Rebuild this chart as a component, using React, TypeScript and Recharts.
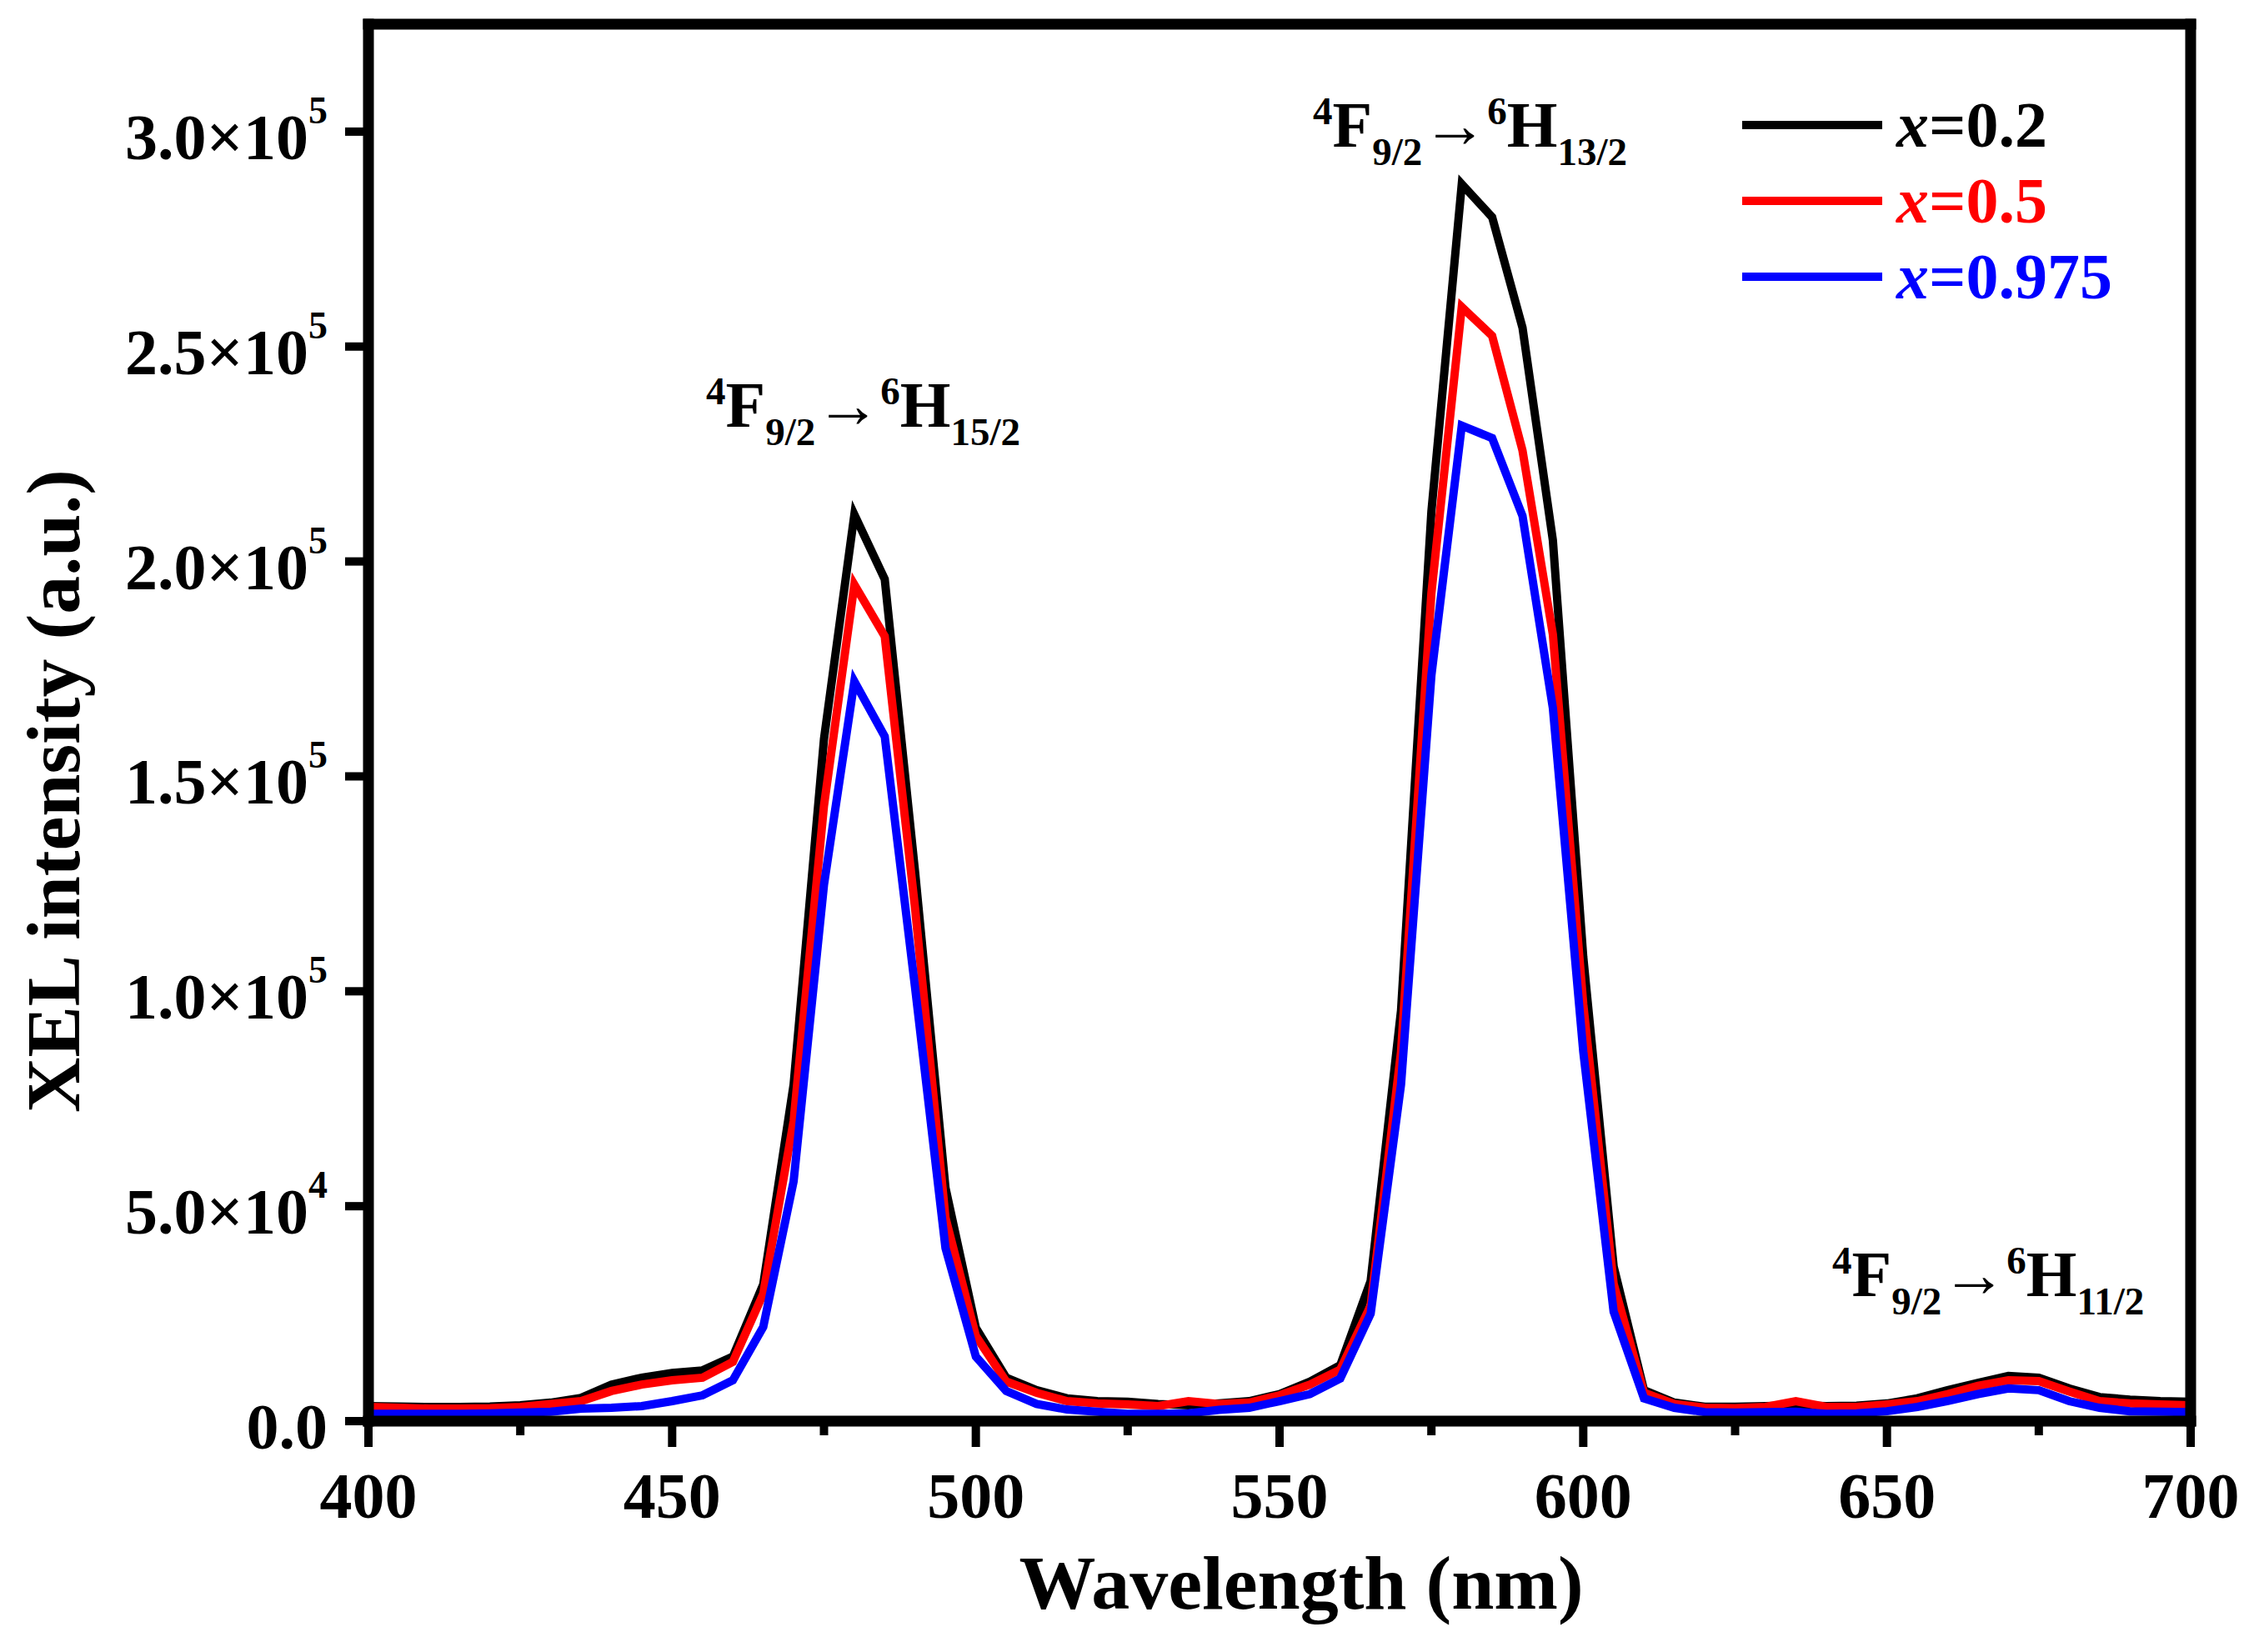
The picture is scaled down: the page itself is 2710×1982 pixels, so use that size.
import React from "react";
import { ComposedChart, Line, XAxis, YAxis } from "recharts";

// wavelength grid (nm)
const wavelengths = [
  400, 405, 410, 415, 420, 425, 430, 435, 440, 445, 450, 455, 460, 465, 470, 475, 480, 485, 490, 495,
  500, 505, 510, 515, 520, 525, 530, 535, 540, 545, 550, 555, 560, 565, 570, 575, 580, 585, 590, 595,
  600, 605, 610, 615, 620, 625, 630, 635, 640, 645, 650, 655, 660, 665, 670, 675, 680, 685, 690, 695,
  700,
];

// x = 0.2
const seriesA = [
  3500, 3400, 3300, 3300, 3400, 3700, 4300, 5400, 8500, 10100, 11200, 11800, 15000, 31800, 78300, 158700, 210900, 195900, 127700, 54300,
  21700, 10100, 7200, 5300, 4650, 4500, 4000, 3700, 4100, 4650, 6300, 9200, 13000, 32600, 95500, 211600, 287800, 280100, 254400, 204900,
  108000, 36000, 7200, 4300, 3350, 3350, 3500, 3700, 3500, 3600, 4100, 5300, 7200, 8900, 10500, 10100, 7600, 5600, 5000, 4650,
  4500,
];

// x = 0.5
const seriesB = [
  3300, 3100, 2900, 2900, 3000, 3300, 4000, 4650, 7000, 8500, 9500, 10100, 13800, 29600, 69800, 143200, 194600, 182600, 119200, 47300,
  19800, 9200, 6600, 4650, 4100, 3900, 3500, 4650, 4000, 4300, 6000, 8500, 12000, 26900, 85900, 192600, 259200, 252500, 225800, 183000,
  97000, 32000, 6600, 4000, 3100, 3000, 3300, 4650, 3300, 3300, 3900, 4650, 6300, 8200, 9500, 9300, 6900, 4650, 4100, 3900,
  3700,
];

// x = 0.975
const seriesC = [
  1700, 1700, 1700, 1700, 1800, 2000, 2200, 2900, 3100, 3500, 4650, 6000, 9500, 21900, 55800, 124800, 172100, 159300, 100800, 40300,
  15000, 7000, 4000, 2700, 2200, 1700, 1700, 1800, 2600, 3100, 4650, 6300, 9900, 25000, 78300, 173500, 231600, 228700, 210600, 165900,
  86000, 25500, 5300, 3100, 2100, 2000, 2100, 2200, 1700, 1800, 2300, 3300, 4700, 6300, 7600, 7200, 4650, 3100, 2300, 2200,
  2100,
];

const xTicks = [400, 425, 450, 475, 500, 525, 550, 575, 600, 625, 650, 675, 700];
const yTicks = [0, 50000, 100000, 150000, 200000, 250000, 300000];
const yTickText: Record<number, [string, string]> = {
  0: ["0.0", ""],
  50000: ["5.0×10", "4"],
  100000: ["1.0×10", "5"],
  150000: ["1.5×10", "5"],
  200000: ["2.0×10", "5"],
  250000: ["2.5×10", "5"],
  300000: ["3.0×10", "5"],
};

const seriesInfo = [
  { key: "a", label: "0.2", color: "#000000" },
  { key: "b", label: "0.5", color: "#ff0000" },
  { key: "c", label: "0.975", color: "#0000ff" },
];

const data = wavelengths.map((w, i) => ({ w, a: seriesA[i], b: seriesB[i], c: seriesC[i] }));

const FONT = "'Liberation Serif', 'Times New Roman', serif";
const AXIS_W = 13;
const frameLine = { stroke: "#000", strokeWidth: AXIS_W, strokeLinecap: "square" as const };

const XTick = ({ x, y, payload }: any) => {
  const major = payload.value % 50 === 0;
  return (
    <g>
      <line x1={x} x2={x} y1={y} y2={y + (major ? 31 : 17)} stroke="#000" strokeWidth={10} />
      {major && (
        <text x={x} y={y + 116} textAnchor="middle" fontFamily={FONT} fontWeight="bold" fontSize={78} fill="#000">
          {payload.value}
        </text>
      )}
    </g>
  );
};

const YTick = ({ x, y, payload }: any) => {
  const [mant, exp] = yTickText[payload.value] || [String(payload.value), ""];
  return (
    <g>
      <line x1={x - 28} x2={x} y1={y} y2={y} stroke="#000" strokeWidth={10} />
      <text x={x - 49} y={y + 33} textAnchor="end" fontFamily={FONT} fontWeight="bold" fontSize={78} fill="#000">
        {mant}
        {exp && (
          <tspan fontSize={46} dy={-43}>
            {exp}
          </tspan>
        )}
      </text>
    </g>
  );
};

const LegendBox = ({ x, y }: { x: number; y: number }) => (
  <g>
    {seriesInfo.map((s, i) => {
      const cy = y + i * 91;
      return (
        <g key={s.key}>
          <line x1={x} x2={x + 168} y1={cy} y2={cy} stroke={s.color} strokeWidth={10} />
          <text x={x + 185} y={cy + 26} fontFamily={FONT} fontWeight="bold" fontSize={78} fill={s.color}>
            <tspan fontStyle="italic">x</tspan>={s.label}
          </text>
        </g>
      );
    })}
  </g>
);

const Transition = ({ x, y, lower }: { x: number; y: number; lower: string }) => (
  <text x={x} y={y} fontFamily={FONT} fontWeight="bold" fontSize={78} fill="#000">
    <tspan fontSize={47} dy={-27}>4</tspan>
    <tspan dy={27}>F</tspan>
    <tspan fontSize={47} dy={22}>9/2</tspan>
    <tspan dy={-22}>→</tspan>
    <tspan fontSize={47} dy={-27}>6</tspan>
    <tspan dy={27}>H</tspan>
    <tspan fontSize={47} dy={22}>{lower}</tspan>
  </text>
);

export default function App() {
  return (
    <div style={{ position: "absolute", left: 0, top: 0, width: 2710, height: 1982, background: "#fff" }}>
      <ComposedChart
        width={2710}
        height={1982}
        data={data}
        margin={{ top: 28, right: 81, bottom: 0, left: 0 }}
      >
        <XAxis
          dataKey="w"
          type="number"
          domain={[400, 700]}
          ticks={xTicks}
          interval={0}
          height={277}
          tickSize={0}
          tickMargin={0}
          tickLine={false}
          tick={<XTick />}
          axisLine={frameLine}
          label={{
            content: ({ viewBox }: any) => (
              <text
                x={viewBox.x + viewBox.width / 2 + 26}
                y={1930}
                textAnchor="middle"
                fontFamily={FONT}
                fontWeight="bold"
                fontSize={92}
                fill="#000"
              >
                Wavelength (nm)
              </text>
            ),
          }}
        />
        <XAxis
          xAxisId="top"
          dataKey="w"
          orientation="top"
          type="number"
          domain={[400, 700]}
          height={1}
          tick={false}
          tickLine={false}
          axisLine={frameLine}
        />
        <YAxis
          type="number"
          domain={[0, 325000]}
          ticks={yTicks}
          interval={0}
          width={442}
          tickSize={0}
          tickMargin={0}
          tickLine={false}
          tick={<YTick />}
          axisLine={frameLine}
          label={{
            content: ({ viewBox }: any) => (
              <text
                transform={`translate(95, ${viewBox.y + viewBox.height / 2 + 82}) rotate(-90)`}
                textAnchor="middle"
                fontFamily={FONT}
                fontWeight="bold"
                fontSize={92}
                fill="#000"
              >
                XEL intensity (a.u.)
              </text>
            ),
          }}
        />
        <YAxis
          yAxisId="right"
          orientation="right"
          type="number"
          domain={[0, 325000]}
          width={1}
          tick={false}
          tickLine={false}
          axisLine={frameLine}
        />
        {/* invisible series so the frame axes are drawn */}
        <Line
          xAxisId="top"
          yAxisId="right"
          dataKey="a"
          stroke="none"
          strokeWidth={0}
          dot={false}
          activeDot={false}
          legendType="none"
          isAnimationActive={false}
        />
        {seriesInfo.map((s) => (
          <Line
            key={s.key}
            type="linear"
            dataKey={s.key}
            stroke={s.color}
            strokeWidth={10}
            strokeLinejoin="miter"
            dot={false}
            activeDot={false}
            isAnimationActive={false}
          />
        ))}
      </ComposedChart>
      <svg
        width={2710}
        height={1982}
        style={{ position: "absolute", left: 0, top: 0, pointerEvents: "none" }}
      >
        <LegendBox x={2090} y={150} />
        <Transition x={847} y={512} lower="15/2" />
        <Transition x={1575} y={176} lower="13/2" />
        <Transition x={2198} y={1555} lower="11/2" />
      </svg>
    </div>
  );
}
